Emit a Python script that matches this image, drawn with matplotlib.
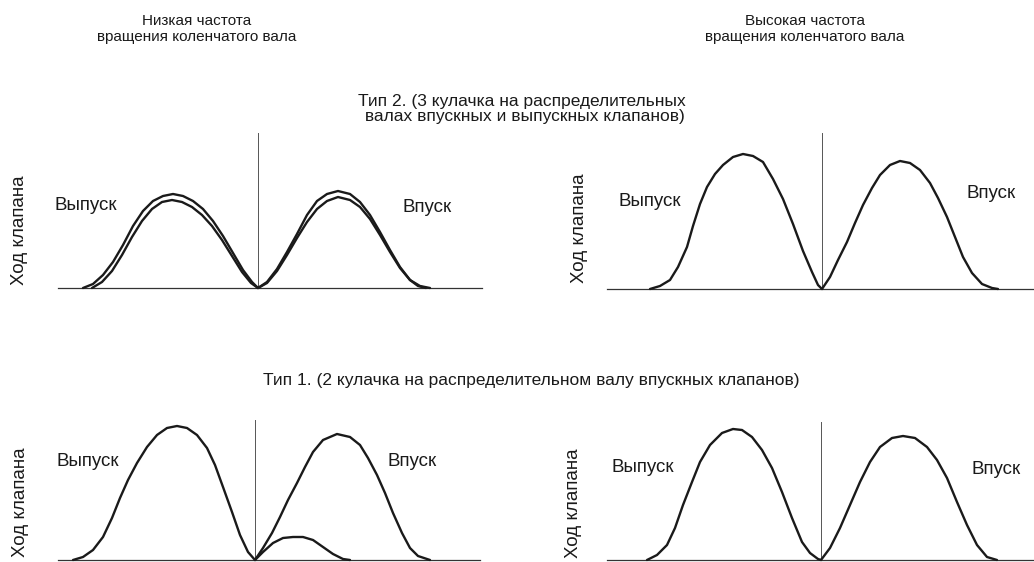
import matplotlib
matplotlib.use("Agg")
import matplotlib.pyplot as plt

plt.rcParams['font.family'] = ['Liberation Sans', 'DejaVu Sans']

W, H = 1034, 562
INK = "#1a1a1a"

# --- Valve lift curves: x = offset from TDC, y = lift ---

# Type 2, low rpm (two exhaust / two intake profiles)
t2_low_exh_a_x = [-175, -165, -155, -145, -135, -125, -115, -105, -95, -85, -75, -65, -55, -45, -35, -25, -15, -6, 0]
t2_low_exh_a_y = [0, 4, 13, 26, 43, 62, 77, 87, 92, 94, 92, 87, 79, 67, 52, 35, 18, 6, 0]
t2_low_exh_b_x = [-166, -156, -146, -136, -126, -116, -106, -96, -86, -76, -66, -56, -46, -36, -26, -16, -7, 0]
t2_low_exh_b_y = [0, 6, 17, 33, 51, 67, 79, 86, 88, 86, 81, 73, 62, 48, 32, 16, 5, 0]
t2_low_int_a_x = [0, 9, 19, 29, 39, 49, 59, 69, 80, 92, 102, 112, 122, 132, 142, 152, 162, 172]
t2_low_int_a_y = [0, 6, 19, 36, 54, 73, 87, 94, 97, 94, 86, 73, 56, 38, 21, 8, 2, 0]
t2_low_int_b_x = [0, 9, 19, 29, 39, 49, 59, 69, 80, 92, 102, 112, 122, 132, 142, 152, 160, 168]
t2_low_int_b_y = [0, 5, 17, 33, 50, 66, 79, 87, 91, 88, 81, 69, 53, 36, 20, 8, 2, 0]

# Type 2, high rpm
t2_high_exh_x = [-172, -162, -152, -144, -135, -129, -122, -115, -107, -99, -89, -79, -69, -59, -49, -39, -29, -19, -10, -4, 0]
t2_high_exh_y = [0, 3, 9, 22, 42, 63, 85, 102, 115, 124, 132, 135, 133, 127, 110, 90, 65, 38, 17, 4, 0]
t2_high_int_x = [0, 8, 16, 25, 33, 41, 50, 58, 68, 78, 88, 98, 108, 116, 125, 133, 141, 150, 160, 170, 176]
t2_high_int_y = [0, 12, 29, 47, 66, 84, 101, 114, 124, 128, 126, 119, 106, 91, 72, 52, 32, 16, 5, 1, 0]

# Type 1, low rpm (large intake cam + small intake cam)
t1_low_exh_x = [-182, -172, -162, -152, -143, -135, -127, -118, -108, -98, -88, -78, -68, -58, -48, -40, -32, -23, -15, -7, 0]
t1_low_exh_y = [0, 3, 10, 23, 42, 62, 80, 97, 113, 125, 132, 134, 132, 125, 112, 95, 73, 48, 25, 8, 0]
t1_low_int_x = [0, 8, 17, 25, 33, 42, 50, 58, 68, 82, 95, 105, 113, 122, 130, 138, 147, 155, 163, 175]
t1_low_int_y = [0, 12, 27, 43, 60, 77, 93, 108, 120, 126, 123, 115, 102, 85, 67, 47, 27, 12, 4, 0]
t1_low_small_x = [0, 8, 18, 28, 38, 48, 58, 68, 78, 88, 95]
t1_low_small_y = [0, 8, 17, 22, 23, 23, 20, 13, 6, 1, 0]

# Type 1, high rpm
t1_high_exh_x = [-174, -164, -154, -146, -138, -129, -121, -111, -99, -88, -79, -69, -59, -49, -39, -29, -19, -11, -3, 0]
t1_high_exh_y = [0, 5, 15, 32, 55, 78, 98, 115, 127, 131, 130, 123, 110, 92, 68, 42, 18, 7, 1, 0]
t1_high_int_x = [0, 9, 19, 29, 39, 49, 59, 71, 82, 94, 106, 116, 126, 136, 146, 156, 166, 176]
t1_high_int_y = [0, 12, 32, 55, 78, 98, 113, 122, 124, 122, 113, 100, 82, 58, 35, 15, 3, 0]

# --- Text ---
col_titles = ["Низкая частота\nвращения коленчатого вала",
              "Высокая частота\nвращения коленчатого вала"]
type2_title = "Тип 2. (3 кулачка на распределительных\n валах впускных и выпускных клапанов)"
type1_title = "Тип 1. (2 кулачка на распределительном валу впускных клапанов)"
ylabel = "Ход клапана"
exh_label = "Выпуск"
int_label = "Впуск"

# panel boxes in pixels: tdc x, baseline y, left x, right x, top of TDC line
panels = {
    "t2_low": (258, 288, 58, 482, 133),
    "t2_high": (822, 289, 607, 1034, 133),
    "t1_low": (255, 560, 58, 480, 420),
    "t1_high": (821, 560, 607, 1034, 422),
}

curves = {
    "t2_low": [(t2_low_exh_a_x, t2_low_exh_a_y), (t2_low_exh_b_x, t2_low_exh_b_y),
               (t2_low_int_a_x, t2_low_int_a_y), (t2_low_int_b_x, t2_low_int_b_y)],
    "t2_high": [(t2_high_exh_x, t2_high_exh_y), (t2_high_int_x, t2_high_int_y)],
    "t1_low": [(t1_low_exh_x, t1_low_exh_y), (t1_low_int_x, t1_low_int_y),
               (t1_low_small_x, t1_low_small_y)],
    "t1_high": [(t1_high_exh_x, t1_high_exh_y), (t1_high_int_x, t1_high_int_y)],
}

fig = plt.figure(figsize=(W / 100, H / 100), dpi=100)
fig.patch.set_facecolor("white")


def ftext(x, y, s, **kw):
    # place text using pixel coords of the reference picture
    fig.text(x / W, 1 - y / H, s, color=INK, **kw)


for key, (tdc, base, left, right, top) in panels.items():
    ax = fig.add_axes([left / W, (H - base) / H, (right - left) / W, (base - top) / H])
    ax.set_xlim(left - tdc, right - tdc)
    ax.set_ylim(0, base - top)
    ax.axis("off")
    ax.plot([left - tdc, right - tdc], [0, 0], color="#333333", lw=0.9, clip_on=False)
    ax.plot([0, 0], [0, base - top], color="#555555", lw=0.7, clip_on=False)
    for xs, ys in curves[key]:
        ax.plot(xs, ys, color=INK, lw=1.7, solid_joinstyle="round",
                solid_capstyle="round", clip_on=False)

# column headers
ftext(197, 29, col_titles[0], ha="center", va="center", fontsize=11, linespacing=1.1)
ftext(805, 29, col_titles[1], ha="center", va="center", fontsize=11, linespacing=1.1)

# type titles
ftext(522, 109, type2_title, ha="center", va="center", fontsize=12.5, linespacing=1.05)
ftext(531, 381, type1_title, ha="center", va="center", fontsize=12.5)

# axis labels
for x, y in [(20, 230), (579, 228), (21, 502), (574, 503)]:
    ftext(x, y, ylabel, ha="center", va="center", rotation=90, fontsize=13.5)

# curve labels
for x, y in [(86, 205), (650, 201), (88, 461), (643, 467)]:
    ftext(x, y, exh_label, ha="center", va="center", fontsize=13.5)
for x, y in [(427, 208), (991, 194), (412, 462), (996, 470)]:
    ftext(x, y, int_label, ha="center", va="center", fontsize=13.5)

fig.savefig("out.png", dpi=100, facecolor="white")
